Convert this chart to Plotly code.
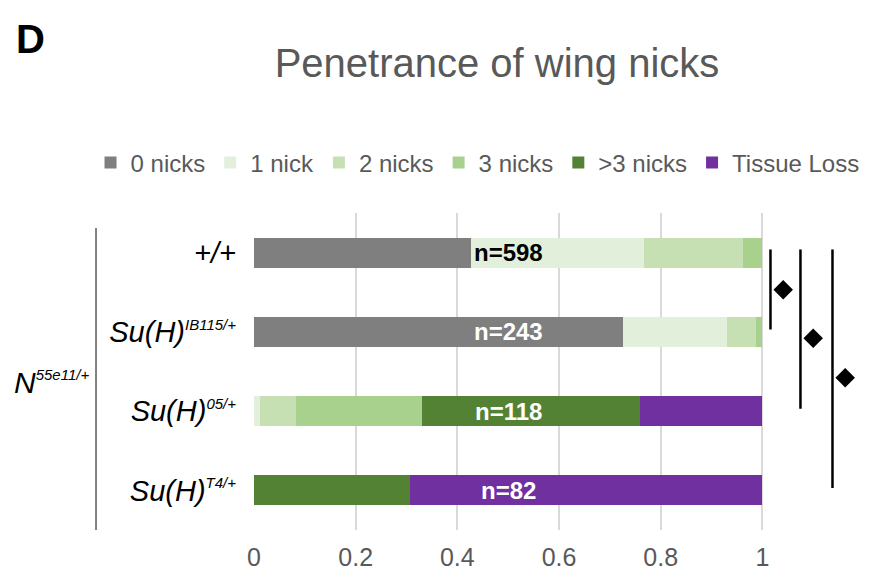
import plotly.graph_objects as go

# genotypes, top to bottom
genotypes = [
    "+/+",
    "Su(H)<sup><span style='font-size:15px'>IB115/+</span></sup>",
    "Su(H)<sup><span style='font-size:15px'>05/+</span></sup>",
    "Su(H)<sup><span style='font-size:15px'>T4/+</span></sup>",
]
sample_sizes = [598, 243, 118, 82]

# fraction of wings in each class
zero_nicks = [0.427, 0.726, 0.0, 0.0]
one_nick = [0.340, 0.205, 0.012, 0.0]
two_nicks = [0.195, 0.057, 0.071, 0.0]
three_nicks = [0.038, 0.012, 0.248, 0.0]
more_nicks = [0.0, 0.0, 0.429, 0.307]
tissue_loss = [0.0, 0.0, 0.240, 0.693]

series_names = ["0 nicks", "1 nick", "2 nicks", "3 nicks", ">3 nicks", "Tissue Loss"]
series_values = [zero_nicks, one_nick, two_nicks, three_nicks, more_nicks, tissue_loss]
series_colors = ["#7f7f7f", "#e2efda", "#c6e0b4", "#a9d18e", "#548235", "#7030a0"]

# significance comparisons (row index pairs) and where their diamonds sit
comparisons = [(0, 1), (0, 2), (0, 3)]
diamond_rows = [0.47, 1.08, 1.58]

FONT = "Liberation Sans, Arial, sans-serif"
TEXT_GREY = "#595959"

rows = list(range(len(genotypes)))

fig = go.Figure()

for name, values, color in zip(series_names, series_values, series_colors):
    fig.add_trace(
        go.Bar(
            x=values,
            y=rows,
            orientation="h",
            name=name,
            marker=dict(color=color, line=dict(width=0)),
            hoverinfo="skip",
        )
    )

# significance brackets: vertical line spanning the rows plus a diamond
bracket_x = [1.016, 1.075, 1.138]
for (a, b), bx, dy in zip(comparisons, bracket_x, diamond_rows):
    fig.add_trace(
        go.Scatter(
            x=[bx, bx],
            y=[a - 0.04, b - 0.03],
            mode="lines",
            line=dict(color="black", width=2.5),
            showlegend=False,
            hoverinfo="skip",
            cliponaxis=False,
        )
    )
    fig.add_trace(
        go.Scatter(
            x=[bx + 0.025],
            y=[dy],
            mode="markers",
            marker=dict(symbol="diamond", size=15, color="black"),
            showlegend=False,
            hoverinfo="skip",
            cliponaxis=False,
        )
    )

# sample size labels
for i, n in enumerate(sample_sizes):
    fig.add_annotation(
        x=0.5, y=i, xref="x", yref="y",
        text=f"<b>n={n}</b>",
        showarrow=False,
        font=dict(family=FONT, size=24, color="black" if i == 0 else "white"),
    )

# panel letter
fig.add_annotation(
    x=-0.394, y=1.549, xref="paper", yref="paper",
    xanchor="left", yanchor="middle",
    text="<b>D</b>", showarrow=False,
    font=dict(family=FONT, size=40, color="black"),
)

# background genotype label and its bar
fig.add_annotation(
    x=-0.397, y=0.464, xref="paper", yref="paper",
    xanchor="left", yanchor="middle",
    text="N<sup><span style='font-size:15px'>55e11/+</span></sup>",
    showarrow=False,
    font=dict(family=FONT, size=30, color="black", style="italic"),
)
fig.add_shape(
    type="line", xref="paper", yref="paper",
    x0=-0.259, x1=-0.259, y0=0.953, y1=0.0,
    line=dict(color=TEXT_GREY, width=1.5),
)

fig.update_layout(
    barmode="stack",
    bargap=0.62,
    width=879,
    height=572,
    margin=dict(l=246, r=23, t=205, b=50),
    plot_bgcolor="white",
    paper_bgcolor="white",
    font=dict(family=FONT, color=TEXT_GREY),
    title=dict(
        text="Penetrance of wing nicks",
        xref="container", x=489 / 879, xanchor="center",
        yref="container", y=1 - 55 / 572, yanchor="middle",
        font=dict(family=FONT, size=40, color=TEXT_GREY),
    ),
    legend=dict(
        orientation="h",
        x=-0.268, xanchor="left",
        y=1.158, yanchor="middle",
        font=dict(family=FONT, size=24, color=TEXT_GREY),
        traceorder="normal",
        itemwidth=30,
    ),
    xaxis=dict(
        range=[0, 1.2],
        tickvals=[0, 0.2, 0.4, 0.6, 0.8, 1],
        ticktext=["0", "0.2", "0.4", "0.6", "0.8", "1"],
        showgrid=True,
        gridcolor="#d9d9d9",
        gridwidth=2,
        zeroline=False,
        showline=False,
        ticks="",
        ticklabelstandoff=10,
        tickfont=dict(family=FONT, size=25, color=TEXT_GREY),
        automargin=False,
        fixedrange=True,
    ),
    yaxis=dict(
        range=[3.5, -0.5],
        tickvals=rows,
        ticktext=genotypes,
        showgrid=False,
        zeroline=False,
        showline=False,
        ticks="",
        ticklabelstandoff=17,
        tickfont=dict(family=FONT, size=29, color="black", style="italic"),
        automargin=False,
        fixedrange=True,
    ),
)

fig.write_html("out.html")
